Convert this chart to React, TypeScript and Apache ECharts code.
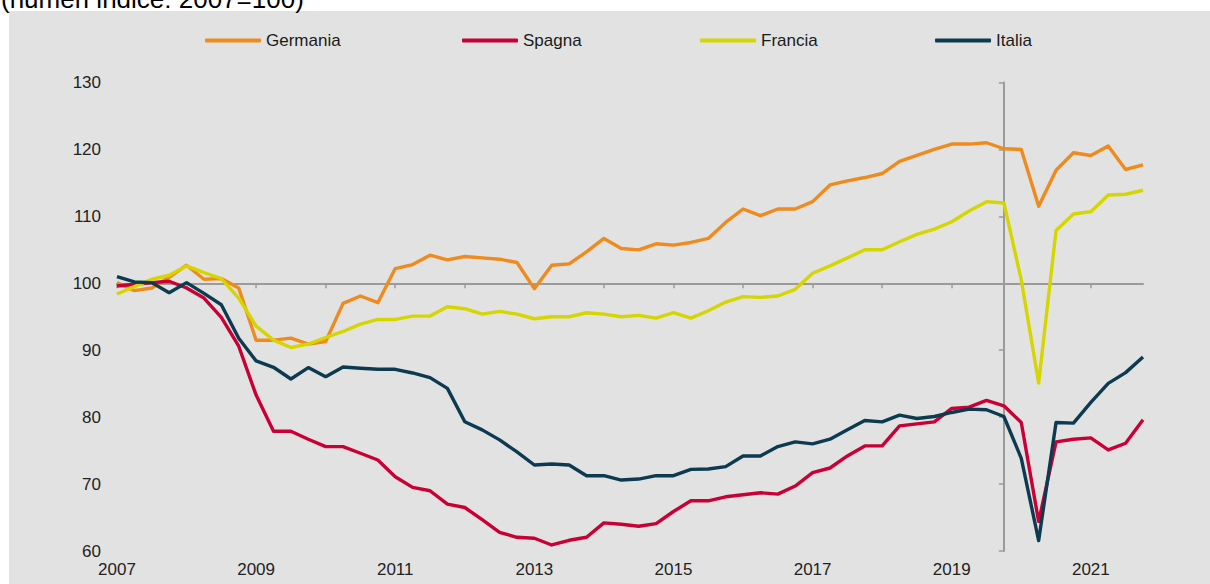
import React, { useEffect, useRef } from "react";
import * as echarts from "echarts";

const YEARS = [2007, 2008, 2009, 2010, 2011, 2012, 2013, 2014, 2015, 2016, 2017, 2018, 2019, 2020, 2021];
const QUARTERS = YEARS.flatMap((y) => [`${y} T1`, `${y} T2`, `${y} T3`, `${y} T4`]);

const TITLE = "(numeri indice: 2007=100)";
const Y_TICKS = [60, 70, 80, 90, 100, 110, 120, 130];
const REF_LEVEL = 100;
const REF_QUARTER = "2019 T4";

const GERMANIA = [
  100.1, 98.9, 99.3, 100.9, 102.7, 100.6, 100.7, 99.3,
  91.5, 91.5, 91.8, 90.9, 91.3, 97.0, 98.1, 97.1,
  102.2, 102.8, 104.2, 103.5, 104.0, 103.8, 103.6, 103.1,
  99.2, 102.7, 102.9, 104.7, 106.7, 105.2, 105.0, 105.9,
  105.7, 106.1, 106.7, 109.1, 111.1, 110.1, 111.1, 111.1,
  112.2, 114.7, 115.3, 115.8, 116.4, 118.2, 119.1, 120.0,
  120.8, 120.8, 121.0, 120.1, 120.0, 111.5, 116.9, 119.5,
  119.1, 120.5, 117.0, 117.7,
];
const SPAGNA = [
  99.6, 99.85, 100.1, 100.3, 99.3, 97.8, 94.9, 90.6,
  83.3, 77.9, 77.9, 76.7, 75.6, 75.6, 74.6, 73.6,
  71.1, 69.5, 69.0, 67.0, 66.5, 64.7, 62.8, 62.05,
  61.9, 60.9, 61.6, 62.05, 64.2, 64.0, 63.7, 64.1,
  65.9, 67.5, 67.5, 68.1, 68.4, 68.7, 68.5, 69.7,
  71.7, 72.4, 74.2, 75.7, 75.7, 78.7, 79.0, 79.3,
  81.3, 81.5, 82.5, 81.7, 79.2, 64.4, 76.3, 76.7,
  76.9, 75.1, 76.1, 79.6,
];
const FRANCIA = [
  98.4, 99.5, 100.6, 101.2, 102.6, 101.6, 100.7, 97.8,
  93.6, 91.5, 90.4, 90.9, 91.9, 92.8, 93.9, 94.6,
  94.6, 95.1, 95.1, 96.5, 96.2, 95.4, 95.8, 95.4,
  94.7, 95.0, 95.0, 95.6, 95.4, 95.0, 95.2, 94.8,
  95.6, 94.8, 95.9, 97.2, 98.0, 97.9, 98.1, 99.1,
  101.5, 102.6, 103.8, 105.0, 105.0, 106.2, 107.3, 108.1,
  109.2, 110.8, 112.2, 112.0, 100.5, 85.1, 107.9, 110.35,
  110.7, 113.2, 113.3, 113.9,
];
const ITALIA = [
  101.0, 100.2, 100.1, 98.6, 100.1, 98.5, 96.8, 91.8,
  88.4, 87.45, 85.7, 87.4, 86.05, 87.5, 87.3, 87.15,
  87.15, 86.6, 85.9, 84.3, 79.3, 78.1, 76.6, 74.8,
  72.85, 73.0, 72.85, 71.25, 71.25, 70.6, 70.75, 71.25,
  71.25, 72.2, 72.25, 72.6, 74.2, 74.2, 75.6, 76.3,
  76.0, 76.7, 78.1, 79.5, 79.3, 80.3, 79.8, 80.1,
  80.7, 81.2, 81.1, 80.1, 73.85, 61.55, 79.2, 79.1,
  82.2, 85.05, 86.65, 89.0,
];

const SERIES = [
  { name: "Germania", data: GERMANIA, color: "#ef8a1d" },
  { name: "Spagna", data: SPAGNA, color: "#c90035" },
  { name: "Francia", data: FRANCIA, color: "#d6d500" },
  { name: "Italia", data: ITALIA, color: "#0c3a50" },
];
const LEGEND_LEFT = [205, 462, 700, 935];

const FONT = "'Liberation Sans', Arial, Helvetica, sans-serif";
const W = 1210;
const H = 584;
const PLOT_LEFT = 117;
const PLOT_RIGHT = 67;
const PLOT_TOP = 82.5;
const PLOT_BOTTOM = 33;
const AXIS_GRAY = "#9b9b9b";

export default function App() {
  const ref = useRef<HTMLDivElement>(null);

  useEffect(() => {
    if (!ref.current) return;
    const chart = echarts.init(ref.current, undefined, { renderer: "svg" });
    const yMin = Y_TICKS[0];
    const yMax = Y_TICKS[Y_TICKS.length - 1];
    const plotW = W - PLOT_LEFT - PLOT_RIGHT;
    const plotH = H - PLOT_TOP - PLOT_BOTTOM;
    const refIdx = QUARTERS.indexOf(REF_QUARTER);
    const vLineLeft = PLOT_LEFT + (refIdx * plotW) / (QUARTERS.length - 1);
    const hLineBottom = PLOT_BOTTOM + ((REF_LEVEL - yMin) / (yMax - yMin)) * plotH;

    chart.setOption({
      animation: false,
      backgroundColor: "#ffffff",
      textStyle: { fontFamily: FONT },
      graphic: [
        {
          type: "rect",
          z: -10,
          silent: true,
          shape: { x: 9, y: 11, width: W - 9, height: H - 11 },
          style: { fill: "#e2e2e2" },
        },
        {
          type: "text",
          left: 1,
          top: -14,
          silent: true,
          style: { text: TITLE, fill: "#000", fontSize: 26, fontFamily: FONT },
        },
      ],
      legend: SERIES.map((s, i) => ({
        data: [s.name],
        left: LEGEND_LEFT[i],
        top: 32,
        padding: 0,
        icon: "roundRect",
        itemWidth: 56,
        itemHeight: 4,
        itemGap: 0,
        selectedMode: false,
        textStyle: { fontSize: 17, color: "#1a1a1a", fontFamily: FONT },
      })),
      grid: [
        { left: PLOT_LEFT, right: PLOT_RIGHT, top: PLOT_TOP, bottom: PLOT_BOTTOM },
        { left: PLOT_LEFT, right: PLOT_RIGHT, top: PLOT_TOP, bottom: hLineBottom },
        { left: vLineLeft, right: PLOT_RIGHT, top: PLOT_TOP, bottom: PLOT_BOTTOM },
      ],
      xAxis: [
        {
          gridIndex: 0,
          type: "category",
          data: QUARTERS,
          boundaryGap: false,
          axisLine: { show: false },
          axisTick: { show: false },
          splitLine: { show: false },
          axisLabel: {
            interval: (i: number) => i % 8 === 0,
            formatter: (v: string) => v.slice(0, 4),
            fontSize: 17,
            color: "#222",
            margin: 10,
            fontFamily: FONT,
          },
        },
        {
          gridIndex: 1,
          type: "category",
          data: QUARTERS,
          boundaryGap: false,
          axisLine: { show: true, lineStyle: { color: AXIS_GRAY, width: 2 } },
          axisTick: {
            show: true,
            interval: (i: number) => i % 4 === 0,
            length: 5,
            lineStyle: { color: AXIS_GRAY, width: 1.5 },
          },
          axisLabel: { show: false },
          splitLine: { show: false },
        },
        { gridIndex: 2, type: "value", min: 0, max: 1, show: false },
      ],
      yAxis: [
        {
          gridIndex: 0,
          type: "value",
          min: yMin,
          max: yMax,
          interval: 10,
          axisLine: { show: false },
          axisTick: { show: false },
          splitLine: { show: false },
          axisLabel: { fontSize: 17, color: "#222", margin: 16, fontFamily: FONT },
        },
        { gridIndex: 1, type: "value", min: 0, max: 1, show: false },
        {
          gridIndex: 2,
          type: "value",
          min: yMin,
          max: yMax,
          interval: 10,
          position: "left",
          axisLine: { show: true, lineStyle: { color: AXIS_GRAY, width: 2 } },
          axisTick: { show: true, length: 5, lineStyle: { color: AXIS_GRAY, width: 1.5 } },
          axisLabel: { show: false },
          splitLine: { show: false },
        },
      ],
      series: SERIES.map((s) => ({
        name: s.name,
        type: "line",
        xAxisIndex: 0,
        yAxisIndex: 0,
        data: s.data,
        symbol: "none",
        showSymbol: false,
        color: s.color,
        lineStyle: { color: s.color, width: 3.4, join: "round" },
        z: 5,
      })),
    });
    return () => chart.dispose();
  }, []);

  return (
    <div
      ref={ref}
      style={{ position: "fixed", left: 0, top: 0, width: W, height: H, background: "#fff" }}
    />
  );
}
